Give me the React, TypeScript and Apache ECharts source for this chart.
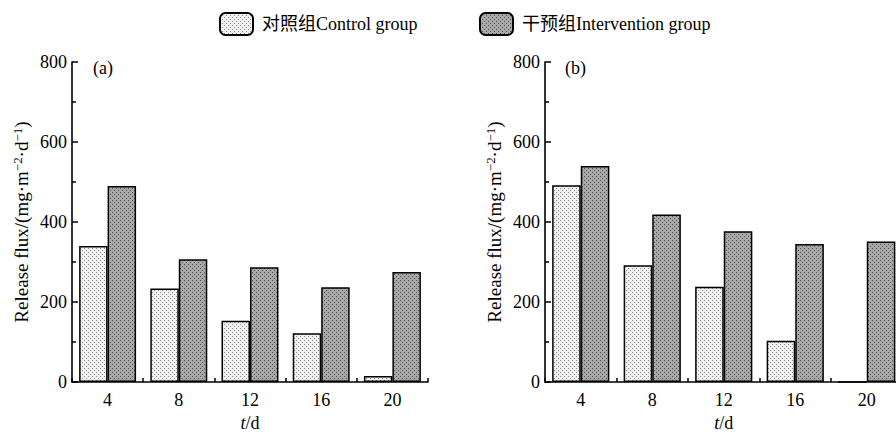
import React, { useEffect, useRef } from "react";
import * as echarts from "echarts";

const categories = ["4", "8", "12", "16", "20"];
const controlA = [340, 234, 153, 122, 15];
const interventionA = [490, 307, 287, 237, 275];
const controlB = [492, 292, 238, 103, 0];
const interventionB = [540, 419, 377, 345, 351];
const yTicks = { min: 0, max: 800, interval: 200 };
const controlName = "对照组Control group";
const interventionName = "干预组Intervention group";
const yName = "Release flux/(mg·m{s|−2}·d{s|−1})";
const xName = "{i|t}/d";

const FONT = "'Liberation Serif', 'Times New Roman', 'Noto Sans CJK SC', serif";
const FS = 18;

function makePattern(bg: string, dot: string) {
  const c = document.createElement("canvas");
  c.width = 4;
  c.height = 4;
  const ctx = c.getContext("2d")!;
  ctx.fillStyle = bg;
  ctx.fillRect(0, 0, 4, 4);
  ctx.fillStyle = dot;
  ctx.fillRect(0, 0, 1, 1);
  ctx.fillRect(2, 2, 1, 1);
  return { image: c.toDataURL(), repeat: "repeat" };
}

export default function App() {
  const ref = useRef<HTMLDivElement>(null);
  useEffect(() => {
    if (!ref.current) return;
    const chart = echarts.init(ref.current, undefined, { renderer: "svg" });
    const controlFill = makePattern("#f0f0f0", "#8a8a8a");
    const interventionFill = makePattern("#a8a8a8", "#505050");
    const axisLine = { show: true, lineStyle: { color: "#000", width: 1.6 } };
    const mkX = (gridIndex: number) => ({
      type: "category",
      gridIndex,
      data: categories,
      boundaryGap: true,
      axisLine,
      axisTick: { show: true, inside: true, length: 4, interval: 0, lineStyle: { color: "#000", width: 1.5 } },
      axisLabel: { color: "#000", fontFamily: FONT, fontSize: FS, margin: 9 },
      name: xName,
      nameLocation: "middle",
      nameGap: 29,
      nameTextStyle: {
        color: "#000",
        fontFamily: FONT,
        fontSize: FS,
        rich: { i: { fontStyle: "italic", fontFamily: FONT, fontSize: FS, color: "#000" } },
      },
      splitLine: { show: false },
    });
    const mkY = (gridIndex: number) => ({
      type: "value",
      gridIndex,
      min: yTicks.min,
      max: yTicks.max,
      interval: yTicks.interval,
      axisLine,
      axisTick: { show: true, inside: true, length: 6, lineStyle: { color: "#000", width: 1.5 } },
      minorTick: { show: true, splitNumber: 2, length: 4, lineStyle: { color: "#000", width: 1.5 } },
      axisLabel: { color: "#000", fontFamily: FONT, fontSize: FS, margin: 5 },
      splitLine: { show: false },
      name: yName,
      nameLocation: "middle",
      nameGap: 40,
      nameTextStyle: {
        color: "#000",
        fontFamily: FONT,
        fontSize: 19,
        lineHeight: 21,
        rich: {
          s: { fontFamily: FONT, fontSize: 13, color: "#000", verticalAlign: "top", lineHeight: 21 },
        },
      },
    });
    const mkBar = (name: string, data: number[], idx: number, fill: any) => ({
      type: "bar",
      name,
      data,
      xAxisIndex: idx,
      yAxisIndex: idx,
      barGap: "0%",
      barCategoryGap: "20%",
      itemStyle: { color: fill, borderColor: "#000", borderWidth: 1.5 },
    });
    const legendCommon = {
      top: 12,
      padding: 0,
      itemWidth: 33,
      itemHeight: 22,
      itemGap: 0,
      textStyle: { color: "#000", fontFamily: FONT, fontSize: FS, padding: [0, 0, 0, 4] },
    };
    chart.setOption({
      animation: false,
      backgroundColor: "#fff",
      legend: [
        { ...legendCommon, left: 219, data: [controlName] },
        { ...legendCommon, left: 479, data: [interventionName] },
      ],
      grid: [
        { left: 72, top: 62, width: 356, height: 320, outerBoundsMode: "none", containLabel: false },
        { left: 545, top: 62, width: 357.5, height: 320, outerBoundsMode: "none", containLabel: false },
      ],
      xAxis: [mkX(0), mkX(1)],
      yAxis: [mkY(0), mkY(1)],
      series: [
        mkBar(controlName, controlA, 0, controlFill),
        mkBar(interventionName, interventionA, 0, interventionFill),
        mkBar(controlName, controlB, 1, controlFill),
        mkBar(interventionName, interventionB, 1, interventionFill),
      ],
      graphic: [
        { type: "text", left: 93, top: 59, style: { text: "(a)", font: `${FS}px ${FONT}`, fill: "#000" } },
        { type: "text", left: 565, top: 59, style: { text: "(b)", font: `${FS}px ${FONT}`, fill: "#000" } },
      ],
    });
    return () => chart.dispose();
  }, []);
  return (
    <div
      ref={ref}
      style={{ position: "fixed", left: 0, top: 0, width: 896, height: 432, background: "#fff" }}
    />
  );
}
